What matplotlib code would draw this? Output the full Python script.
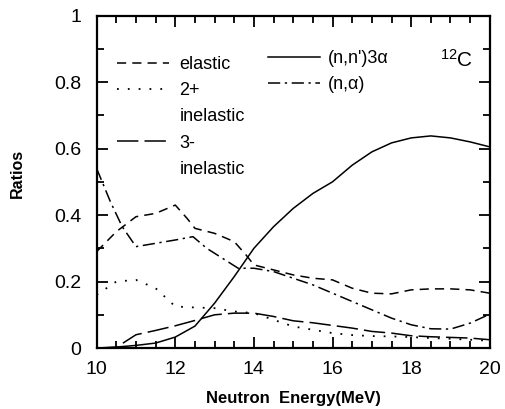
import matplotlib
matplotlib.use('Agg')
import matplotlib.pyplot as plt
from matplotlib.lines import Line2D
from matplotlib.ticker import MultipleLocator, FuncFormatter

plt.rcParams['font.family'] = ['Liberation Sans', 'DejaVu Sans']
plt.rcParams['mathtext.default'] = 'regular'

# valeurs
energy = [10, 10.5, 11, 11.5, 12, 12.5, 13, 13.5, 14, 14.5, 15, 15.5,
          16, 16.5, 17, 17.5, 18, 18.5, 19, 19.5, 20]
n3alpha = [0.0, 0.003, 0.008, 0.015, 0.033, 0.066, 0.135, 0.215, 0.30, 0.365, 0.42, 0.465,
           0.50, 0.55, 0.59, 0.617, 0.632, 0.638, 0.632, 0.62, 0.605]
inel_2p = [0.16, 0.20, 0.205, 0.18, 0.125, 0.122, 0.12, 0.11, 0.105, 0.085, 0.065, 0.055,
           0.045, 0.039, 0.036, 0.035, 0.033, 0.03, 0.028, 0.025, 0.022]
inel_3m = [0.0, 0.002, 0.04, 0.053, 0.067, 0.083, 0.10, 0.105, 0.105, 0.095, 0.082, 0.076,
           0.068, 0.06, 0.05, 0.045, 0.037, 0.034, 0.032, 0.03, 0.025]

# courbes avec cassures
el_energy = [10, 10.5, 11, 11.5, 12, 12.3, 12.5, 13, 13.5, 13.8, 14, 14.5, 15, 15.5,
             16, 16.5, 17, 17.5, 18, 18.5, 19, 19.5, 20]
elastic = [0.29, 0.35, 0.395, 0.405, 0.43, 0.39, 0.36, 0.345, 0.32, 0.28, 0.25, 0.235, 0.22, 0.21,
           0.205, 0.18, 0.165, 0.163, 0.175, 0.178, 0.178, 0.175, 0.165]
na_energy = [10, 10.35, 10.65, 11, 11.5, 12, 12.45, 12.8, 13.2, 13.6, 14, 14.5, 15, 15.5,
             16, 16.5, 17, 17.5, 18, 18.5, 19, 19.5, 20]
n_alpha = [0.54, 0.44, 0.365, 0.305, 0.315, 0.325, 0.335, 0.30, 0.27, 0.24, 0.24, 0.23, 0.21, 0.19,
           0.165, 0.14, 0.115, 0.09, 0.07, 0.058, 0.057, 0.075, 0.102]

st_el = (0, (6, 4))
st_2p = (0, (1, 5))
st_3m = (0, (14, 4))
st_na = (0, (8, 3, 1.5, 3))
lw = 1.1

fig = plt.figure(figsize=(5.06, 4.09), dpi=100)
ax = fig.add_axes([0.191, 0.149, 0.777, 0.813])

ax.plot(energy, n3alpha, color='black', lw=lw, linestyle='-')
ax.plot(el_energy, elastic, color='black', lw=lw, linestyle=st_el)
ax.plot(energy, inel_2p, color='black', lw=1.3, linestyle=st_2p)
ax.plot(energy, inel_3m, color='black', lw=lw, linestyle=st_3m)
ax.plot(na_energy, n_alpha, color='black', lw=lw, linestyle=st_na)

ax.set_xlim(10, 20)
ax.set_ylim(0, 1)
ax.xaxis.set_major_locator(MultipleLocator(2))
ax.xaxis.set_minor_locator(MultipleLocator(0.5))
ax.yaxis.set_major_locator(MultipleLocator(0.2))
ax.yaxis.set_minor_locator(MultipleLocator(0.1))
ax.yaxis.set_major_formatter(FuncFormatter(lambda v, p: '%g' % round(v, 1)))
ax.tick_params(which='both', direction='in', top=True, right=True, width=1.3)
ax.tick_params(which='major', length=8, labelsize=14)
ax.tick_params(axis='x', which='major', pad=9)
ax.tick_params(axis='y', which='major', pad=11)
ax.tick_params(which='minor', length=5)
for s in ax.spines.values():
    s.set_linewidth(1.6)

ax.set_xlabel('Neutron  Energy(MeV)', fontsize=12, fontweight='bold', labelpad=10)
ax.set_ylabel('Ratios', fontsize=11.5, fontweight='bold')
ax.yaxis.set_label_coords(-0.182, 0.526)

blank = Line2D([], [], linestyle='none')
h1 = [Line2D([], [], color='black', lw=lw, linestyle=st_el),
      Line2D([], [], color='black', lw=1.3, linestyle=st_2p), blank,
      Line2D([], [], color='black', lw=lw, linestyle=st_3m), blank]
l1 = ['elastic', '2+', 'inelastic', '3-', 'inelastic']
leg1 = ax.legend(h1, l1, loc='upper left', bbox_to_anchor=(0.052, 0.877), frameon=False,
                 fontsize=13, handlelength=2.9, handletextpad=0.55, labelspacing=0.5,
                 borderpad=0, borderaxespad=0)
ax.add_artist(leg1)

h2 = [Line2D([], [], color='black', lw=lw, linestyle='-'),
      Line2D([], [], color='black', lw=lw, linestyle=st_na)]
l2 = ["(n,n')3\u03b1", '(n,\u03b1)']
ax.legend(h2, l2, loc='upper left', bbox_to_anchor=(0.436, 0.896), frameon=False,
          fontsize=13, handlelength=2.9, handletextpad=0.4, labelspacing=0.5,
          borderpad=0, borderaxespad=0)

ax.text(0.873, 0.845, r'$^{12}$C', transform=ax.transAxes, fontsize=15)

fig.savefig('out.png', dpi=100)
